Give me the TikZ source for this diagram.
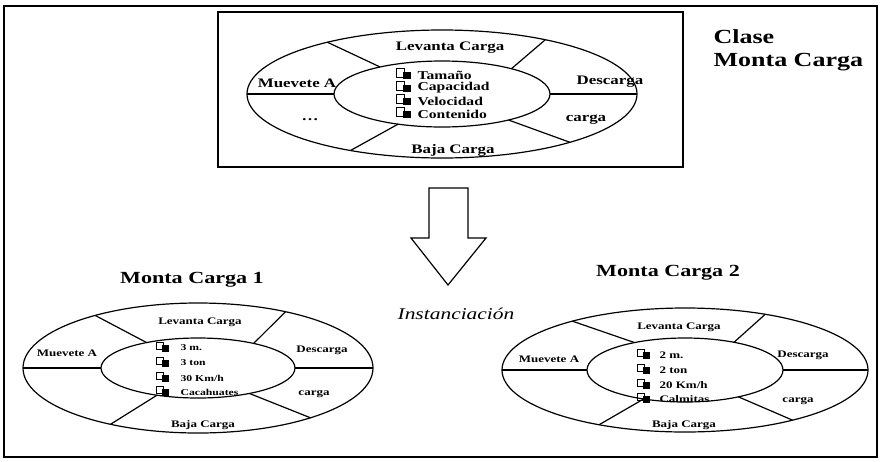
\documentclass[tikz,border=0pt]{standalone}
\usepackage{fontspec}
\setmainfont{Liberation Serif}[FakeStretch=1.3]

\begin{document}
\begin{tikzpicture}[x=1pt,y=-1pt,line width=1.2pt,
        titulo/.style={font=\bfseries\fontsize{20}{23}\selectfont,inner sep=0pt},
        subtitulo/.style={font=\bfseries\fontsize{17}{19}\selectfont,inner sep=0pt},
        etiq/.style={font=\bfseries\fontsize{13}{14}\selectfont,inner sep=0pt},
        etiqch/.style={font=\bfseries\fontsize{10}{11}\selectfont,inner sep=0pt},
        attr/.style={font=\bfseries\fontsize{12}{13}\selectfont,inner sep=0pt,anchor=west},
        attrch/.style={font=\bfseries\fontsize{9}{10}\selectfont,inner sep=0pt,anchor=west}]
        \useasboundingbox (0,0) rectangle (880,461);

        % marco y clase
        \draw (4,6) rectangle (877,457);
        \draw (218,12) rectangle (683,167);
        \node[titulo,anchor=west,align=left] (clase) at (713,50) {Clase\\Monta Carga};

        \begin{scope}[shift={(442,94)}]
           \draw (0,0) ellipse [x radius=195, y radius=64];
           \draw (0,0) ellipse [x radius=108, y radius=33];
           \draw (180:195 and 64) -- (180:108 and 33);
           \draw (0:108 and 33) -- (0:195 and 64);
           \draw (234:195 and 64) -- (235:108 and 33);
           \draw (302:195 and 64) -- (310:108 and 33);
           \draw (118:195 and 64) -- (114:108 and 33);
           \draw (49:195 and 64) -- (52:108 and 33);

           \node[etiq] (levT) at (8,-46) {Levanta Carga};
           \node[etiq] (mueT) at (-145,-11) {Muevete A};
           \node[etiq] (desT) at (168,-12) {Descarga};
           \node[etiq] (punT) at (-132,26) {\dots};
           \node[etiq] (carT) at (144,26) {carga};
           \node[etiq] (bajT) at (11,56) {Baja Carga};

           \foreach\y in {-19,-6,7,20}{
              \draw[line width=0.9pt] (-46,\y-7) rectangle (-38,\y+2);
              \fill (-39,\y-3) rectangle (-31,\y+4);
           }
           \node[attr] (tamT) at (-25,-19) {Tamaño};
           \node[attr] (capT) at (-25,-6) {Capacidad};
           \node[attr] (velT) at (-25,7) {Velocidad};
           \node[attr] (conT) at (-25,20) {Contenido};
        \end{scope}

        % instanciacion
        \draw (429,188) -- (468,188) -- (468,238) -- (486,238) -- (448,285)
              -- (411,238) -- (429,238) -- cycle;
        \node[font=\itshape\fontsize{16.5}{18}\selectfont,inner sep=0pt] (inst) at (456,314) {Instanciación};

        \node[subtitulo] (mc1) at (192,280) {Monta Carga 1};
        \node[subtitulo] (mc2) at (668,273) {Monta Carga 2};

        \begin{scope}[shift={(198,368)}]
           \draw (0,0) ellipse [x radius=175, y radius=65];
           \draw (0,0) ellipse [x radius=97, y radius=30];
           \draw (180:175 and 65) -- (180:97 and 30);
           \draw (0:97 and 30) -- (0:175 and 65);
           \draw (234:175 and 65) -- (238:97 and 30);
           \draw (300:175 and 65) -- (305:97 and 30);
           \draw (120:175 and 65) -- (115:97 and 30);
           \draw (50:175 and 65) -- (58:97 and 30);

           \node[etiqch] (levA) at (2,-46) {Levanta Carga};
           \node[etiqch] (mueA) at (-131,-15) {Muevete A};
           \node[etiqch] (desA) at (124,-18) {Descarga};
           \node[etiqch] (carA) at (116,26) {carga};
           \node[etiqch] (bajA) at (5,57) {Baja Carga};

           \foreach\y in {-20,-5,10,24}{
              \draw[line width=0.8pt] (-42,\y-6) rectangle (-35,\y+1);
              \fill (-36,\y-3) rectangle (-29,\y+4);
           }
           \node[attrch] (tamA) at (-18,-20) {3 m.};
           \node[attrch] (capA) at (-18,-5) {3 ton};
           \node[attrch] (velA) at (-18,10) {30 Km/h};
           \node[attrch] (conA) at (-18,24) {Cacahuates};
        \end{scope}

        \begin{scope}[shift={(685,370)}]
           \draw (0,0) ellipse [x radius=183, y radius=62];
           \draw (0,0) ellipse [x radius=98, y radius=32];
           \draw (180:183 and 62) -- (180:98 and 32);
           \draw (0:98 and 32) -- (0:183 and 62);
           \draw (232:183 and 62) -- (239:98 and 32);
           \draw (296:183 and 62) -- (300:98 and 32);
           \draw (118:183 and 62) -- (115:98 and 32);
           \draw (54:183 and 62) -- (57:98 and 32);

           \node[etiqch] (levB) at (-6,-43) {Levanta Carga};
           \node[etiqch] (mueB) at (-136,-11) {Muevete A};
           \node[etiqch] (desB) at (118,-15) {Descarga};
           \node[etiqch] (carB) at (113,31) {carga};
           \node[etiqch] (bajB) at (-1,55) {Baja Carga};

           \foreach\y in {-15,0,15,29}{
              \draw[line width=0.8pt] (-48,\y-6) rectangle (-41,\y+1);
              \fill (-42,\y-3) rectangle (-35,\y+4);
           }
           \node[attrch,font=\bfseries\fontsize{10}{11}\selectfont] (tamB) at (-26,-15) {2 m.};
           \node[attrch,font=\bfseries\fontsize{10}{11}\selectfont] (capB) at (-26,0) {2 ton};
           \node[attrch,font=\bfseries\fontsize{10}{11}\selectfont] (velB) at (-26,15) {20 Km/h};
           \node[attrch,font=\bfseries\fontsize{10}{11}\selectfont] (conB) at (-26,29) {Calmitas};
        \end{scope}
\end{tikzpicture}
\end{document}
